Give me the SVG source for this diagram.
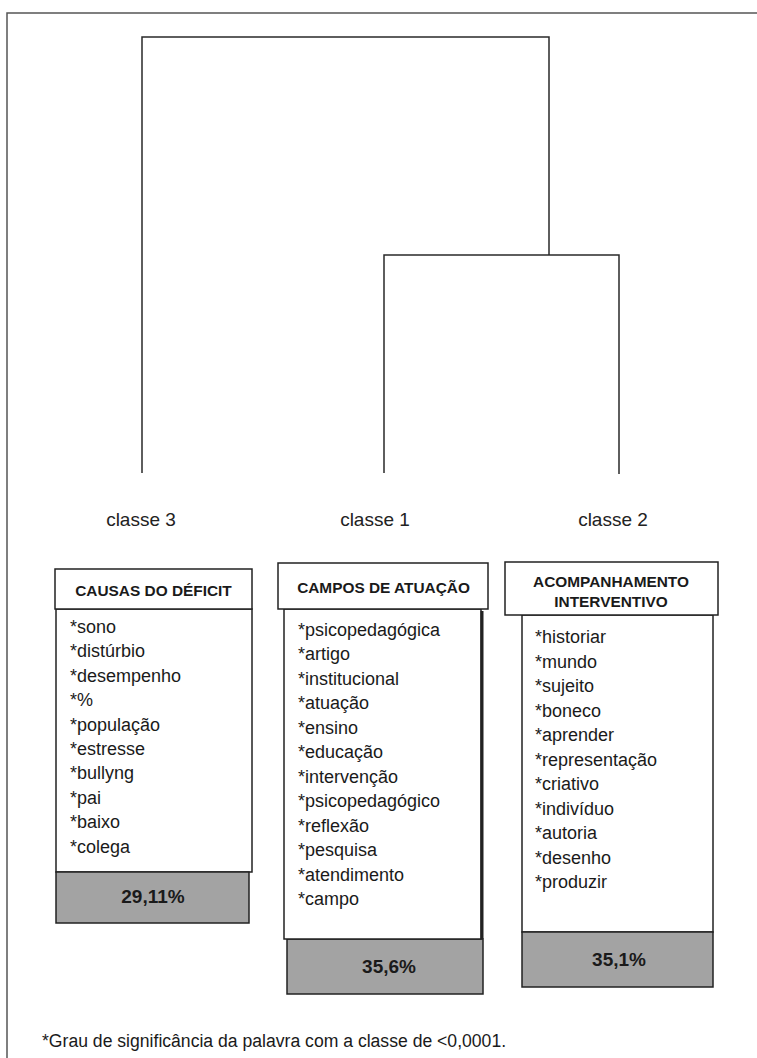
<svg xmlns="http://www.w3.org/2000/svg" width="757" height="1058" viewBox="0 0 757 1058">
<style>
.frame{fill:none;stroke:#555;stroke-width:1.5}
.link{fill:none;stroke:#2a2a2a;stroke-width:1.5}
.box{fill:#fff;stroke:#222;stroke-width:1.5}
.pct{fill:#a3a3a3;stroke:#222;stroke-width:1.5}
.lbl{font-family:"Liberation Sans",Arial,sans-serif;font-size:19px;fill:#222;text-anchor:middle}
.hdr{font-family:"Liberation Sans",Arial,sans-serif;font-size:15.4px;font-weight:bold;fill:#1a1a1a;text-anchor:middle}
.item{font-family:"Liberation Sans",Arial,sans-serif;font-size:18px;fill:#1a1a1a}
.num{font-family:"Liberation Sans",Arial,sans-serif;font-size:19px;font-weight:bold;fill:#1a1a1a;text-anchor:middle}
.note{font-family:"Liberation Sans",Arial,sans-serif;font-size:17.6px;fill:#1a1a1a}
</style>
<rect x="0" y="0" width="757" height="1058" fill="#fff"/>
<rect class="frame" x="7" y="13" width="800" height="1100"/>
<g id="connectors">
<path class="link" d="M142,473 V37 H549 V255"/>
<path class="link" d="M384,473 V255 H619 V474"/>
</g>
<g id="class-labels">
<text class="lbl" x="141" y="526">classe 3</text>
<text class="lbl" x="375" y="526">classe 1</text>
<text class="lbl" x="613" y="526">classe 2</text>
</g>
<g id="classe3">
<rect class="box" x="56" y="609" width="196" height="263"/>
<rect class="pct" x="56" y="872" width="193" height="51"/>
<rect class="box" x="55" y="569" width="197" height="40"/>
<text class="hdr" x="153.5" y="596">CAUSAS DO DÉFICIT</text>
<text class="item" x="70" y="633">*sono</text>
<text class="item" x="70" y="657.4">*distúrbio</text>
<text class="item" x="70" y="681.8">*desempenho</text>
<text class="item" x="70" y="706.2">*%</text>
<text class="item" x="70" y="730.6">*população</text>
<text class="item" x="70" y="755">*estresse</text>
<text class="item" x="70" y="779.4">*bullyng</text>
<text class="item" x="70" y="803.8">*pai</text>
<text class="item" x="70" y="828.2">*baixo</text>
<text class="item" x="70" y="852.6">*colega</text>
<text class="num" x="153" y="903">29,11%</text>
</g>
<g id="classe1">
<rect class="pct" x="287" y="939" width="196" height="55"/>
<rect class="box" x="284" y="609" width="197" height="330"/>
<line x1="482" y1="611" x2="482" y2="939" stroke="#222" stroke-width="3"/>
<rect class="box" x="278" y="563" width="210" height="46"/>
<text class="hdr" x="383.5" y="593">CAMPOS DE ATUAÇÃO</text>
<text class="item" x="298" y="635.5">*psicopedagógica</text>
<text class="item" x="298" y="660">*artigo</text>
<text class="item" x="298" y="684.5">*institucional</text>
<text class="item" x="298" y="709">*atuação</text>
<text class="item" x="298" y="733.5">*ensino</text>
<text class="item" x="298" y="758">*educação</text>
<text class="item" x="298" y="782.5">*intervenção</text>
<text class="item" x="298" y="807">*psicopedagógico</text>
<text class="item" x="298" y="831.5">*reflexão</text>
<text class="item" x="298" y="856">*pesquisa</text>
<text class="item" x="298" y="880.5">*atendimento</text>
<text class="item" x="298" y="905">*campo</text>
<text class="num" x="389" y="973">35,6%</text>
</g>
<g id="classe2">
<rect class="box" x="522" y="615" width="191" height="317" stroke-width="2.2"/>
<rect class="pct" x="522" y="932" width="191" height="55" stroke-width="2"/>
<rect class="box" x="505" y="562" width="213" height="53"/>
<text class="hdr" x="611" y="587">ACOMPANHAMENTO</text>
<text class="hdr" x="611" y="607">INTERVENTIVO</text>
<text class="item" x="535" y="643">*historiar</text>
<text class="item" x="535" y="667.5">*mundo</text>
<text class="item" x="535" y="692">*sujeito</text>
<text class="item" x="535" y="716.5">*boneco</text>
<text class="item" x="535" y="741">*aprender</text>
<text class="item" x="535" y="765.5">*representação</text>
<text class="item" x="535" y="790">*criativo</text>
<text class="item" x="535" y="814.5">*indivíduo</text>
<text class="item" x="535" y="839">*autoria</text>
<text class="item" x="535" y="863.5">*desenho</text>
<text class="item" x="535" y="888">*produzir</text>
<text class="num" x="619" y="966">35,1%</text>
</g>
<text class="note" x="42" y="1047">*Grau de significância da palavra com a classe de &lt;0,0001.</text>
</svg>
